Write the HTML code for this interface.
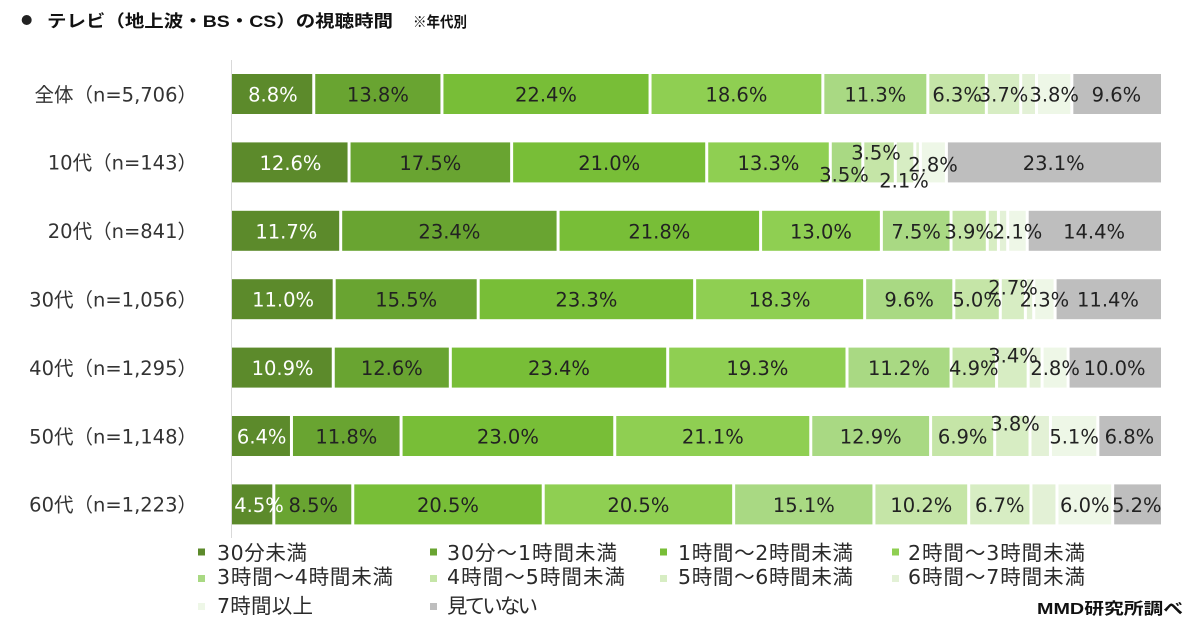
<!DOCTYPE html>
<html><head><meta charset="utf-8"><style>
html,body{margin:0;padding:0;background:#fff;}
svg{display:block;}
.dl{font-family:"DejaVu Sans","Noto Sans CJK JP",sans-serif;font-size:19.5px;fill:#222;text-anchor:middle;}
.w{fill:#fff;}
.rl{font-family:"DejaVu Sans","Noto Sans CJK JP",sans-serif;font-size:19.5px;fill:#333;text-anchor:end;}
.lg{font-family:"DejaVu Sans","Noto Sans CJK JP",sans-serif;font-size:20.5px;fill:#2a2a2a;}
.c0{fill:#5c8a2b}.c1{fill:#69a431}.c2{fill:#78be37}.c3{fill:#8fcf52}.c4{fill:#a9d983}
.c5{fill:#c5e5a7}.c6{fill:#d7edc3}.c7{fill:#e3f1d6}.c8{fill:#eef7e7}.c9{fill:#bebebe}
</style></head><body>
<svg width="1200" height="630" viewBox="0 0 1200 630" xmlns="http://www.w3.org/2000/svg">
<rect width="1200" height="630" fill="#fff"/>
<!-- title -->
<circle cx="26.7" cy="20" r="5" fill="#222"/>
<text x="47" y="27" font-family="Liberation Sans, Noto Sans CJK JP, sans-serif" font-size="17" font-weight="bold" fill="#111" textLength="346" lengthAdjust="spacingAndGlyphs">テレビ（地上波・BS・CS）の視聴時間</text>
<text x="413" y="27" font-family="Liberation Sans, Noto Sans CJK JP, sans-serif" font-size="15" font-weight="bold" fill="#111" textLength="54" lengthAdjust="spacingAndGlyphs">※年代別</text>

<!-- axis -->
<line x1="231.5" y1="60" x2="231.5" y2="538" stroke="#d9d9d9" stroke-width="1"/>

<!-- Row 0 -->
<g transform="translate(0,74)">
<rect class="c0" x="232" y="0" width="80.25" height="40"/>
<rect class="c1" x="315.25" y="0" width="125.2" height="40"/>
<rect class="c2" x="443.45" y="0" width="205.1" height="40"/>
<rect class="c3" x="651.55" y="0" width="169.79" height="40"/>
<rect class="c4" x="824.34" y="0" width="101.98" height="40"/>
<rect class="c5" x="929.32" y="0" width="55.53" height="40"/>
<rect class="c6" x="987.85" y="0" width="31.37" height="40"/>
<rect class="c7" x="1022.22" y="0" width="12.79" height="40"/>
<rect class="c8" x="1038.01" y="0" width="32.31" height="40"/>
<rect class="c9" x="1073.32" y="0" width="87.68" height="40"/>
</g>
<text class="dl w" x="272.9" y="101.5">8.8%</text>
<text class="dl" x="377.9" y="101.5">13.8%</text>
<text class="dl" x="546" y="101.5">22.4%</text>
<text class="dl" x="736.4" y="101.5">18.6%</text>
<text class="dl" x="875.3" y="101.5">11.3%</text>
<text class="dl" x="957.1" y="101.5">6.3%</text>
<text class="dl" x="1003.5" y="101.5">3.7%</text>
<text class="dl" x="1054.2" y="101.5">3.8%</text>
<text class="dl" x="1116.4" y="101.5">9.6%</text>

<!-- Row 1 -->
<g transform="translate(0,142.4)">
<rect class="c0" x="232" y="0" width="115.55" height="40"/>
<rect class="c1" x="350.55" y="0" width="159.58" height="40"/>
<rect class="c2" x="513.13" y="0" width="192.09" height="40"/>
<rect class="c3" x="708.22" y="0" width="120.56" height="40"/>
<rect class="c4" x="831.78" y="0" width="29.51" height="40"/>
<rect class="c5" x="864.29" y="0" width="29.52" height="40"/>
<rect class="c6" x="896.81" y="0" width="16.51" height="40"/>
<rect class="c7" x="916.32" y="0" width="2.57" height="40"/>
<rect class="c8" x="921.89" y="0" width="23.01" height="40"/>
<rect class="c9" x="947.9" y="0" width="213.1" height="40"/>
</g>
<text class="dl w" x="290.5" y="169.9">12.6%</text>
<text class="dl" x="430.3" y="169.9">17.5%</text>
<text class="dl" x="609.2" y="169.9">21.0%</text>
<text class="dl" x="768.5" y="169.9">13.3%</text>
<text class="dl" x="844" y="181.5">3.5%</text>
<text class="dl" x="876" y="159.5">3.5%</text>
<text class="dl" x="904" y="187.5">2.1%</text>
<text class="dl" x="933" y="171.5">2.8%</text>
<text class="dl" x="1053.7" y="169.9">23.1%</text>

<!-- Row 2 -->
<g transform="translate(0,210.8)">
<rect class="c0" x="232" y="0" width="107.19" height="40"/>
<rect class="c1" x="342.19" y="0" width="214.39" height="40"/>
<rect class="c2" x="559.58" y="0" width="199.52" height="40"/>
<rect class="c3" x="762.1" y="0" width="117.77" height="40"/>
<rect class="c4" x="882.87" y="0" width="66.68" height="40"/>
<rect class="c5" x="952.55" y="0" width="33.23" height="40"/>
<rect class="c6" x="988.78" y="0" width="8.15" height="40"/>
<rect class="c7" x="999.93" y="0" width="6.29" height="40"/>
<rect class="c8" x="1009.22" y="0" width="16.5" height="40"/>
<rect class="c9" x="1028.72" y="0" width="132.28" height="40"/>
</g>
<text class="dl w" x="286.3" y="238.3">11.7%</text>
<text class="dl" x="449.4" y="238.3">23.4%</text>
<text class="dl" x="659.3" y="238.3">21.8%</text>
<text class="dl" x="821" y="238.3">13.0%</text>
<text class="dl" x="916.2" y="238.3">7.5%</text>
<text class="dl" x="969.2" y="238.3">3.9%</text>
<text class="dl" x="1017.5" y="238.3">2.1%</text>
<text class="dl" x="1094.1" y="238.3">14.4%</text>

<!-- Row 3 -->
<g transform="translate(0,279.2)">
<rect class="c0" x="232" y="0" width="100.69" height="40"/>
<rect class="c1" x="335.69" y="0" width="141" height="40"/>
<rect class="c2" x="479.69" y="0" width="213.45" height="40"/>
<rect class="c3" x="696.14" y="0" width="167.01" height="40"/>
<rect class="c4" x="866.15" y="0" width="86.18" height="40"/>
<rect class="c5" x="955.33" y="0" width="43.45" height="40"/>
<rect class="c6" x="1001.78" y="0" width="22.09" height="40"/>
<rect class="c7" x="1026.87" y="0" width="5.36" height="40"/>
<rect class="c8" x="1035.23" y="0" width="18.36" height="40"/>
<rect class="c9" x="1056.59" y="0" width="104.41" height="40"/>
</g>
<text class="dl w" x="283.1" y="306.7">11.0%</text>
<text class="dl" x="406.2" y="306.7">15.5%</text>
<text class="dl" x="586.4" y="306.7">23.3%</text>
<text class="dl" x="779.6" y="306.7">18.3%</text>
<text class="dl" x="909.2" y="306.7">9.6%</text>
<text class="dl" x="977.1" y="306.7">5.0%</text>
<text class="dl" x="1013" y="294.5">2.7%</text>
<text class="dl" x="1044.4" y="306.7">2.3%</text>
<text class="dl" x="1108" y="306.7">11.4%</text>

<!-- Row 4 -->
<g transform="translate(0,347.6)">
<rect class="c0" x="232" y="0" width="99.76" height="40"/>
<rect class="c1" x="334.76" y="0" width="114.06" height="40"/>
<rect class="c2" x="451.82" y="0" width="214.38" height="40"/>
<rect class="c3" x="669.2" y="0" width="176.3" height="40"/>
<rect class="c4" x="848.5" y="0" width="101.05" height="40"/>
<rect class="c5" x="952.55" y="0" width="42.52" height="40"/>
<rect class="c6" x="998.07" y="0" width="28.58" height="40"/>
<rect class="c7" x="1029.65" y="0" width="10.94" height="40"/>
<rect class="c8" x="1043.59" y="0" width="23.01" height="40"/>
<rect class="c9" x="1069.6" y="0" width="91.4" height="40"/>
</g>
<text class="dl w" x="282.6" y="375.1">10.9%</text>
<text class="dl" x="391.8" y="375.1">12.6%</text>
<text class="dl" x="559" y="375.1">23.4%</text>
<text class="dl" x="757.4" y="375.1">19.3%</text>
<text class="dl" x="899" y="375.1">11.2%</text>
<text class="dl" x="973.8" y="375.1">4.9%</text>
<text class="dl" x="1013" y="362.5">3.4%</text>
<text class="dl" x="1055.1" y="375.1">2.8%</text>
<text class="dl" x="1114.6" y="375.1">10.0%</text>

<!-- Row 5 -->
<g transform="translate(0,416)">
<rect class="c0" x="232" y="0" width="57.96" height="40"/>
<rect class="c1" x="292.96" y="0" width="106.62" height="40"/>
<rect class="c2" x="402.58" y="0" width="210.67" height="40"/>
<rect class="c3" x="616.25" y="0" width="193.02" height="40"/>
<rect class="c4" x="812.27" y="0" width="116.84" height="40"/>
<rect class="c5" x="932.11" y="0" width="61.1" height="40"/>
<rect class="c6" x="996.21" y="0" width="32.3" height="40"/>
<rect class="c7" x="1031.51" y="0" width="17.44" height="40"/>
<rect class="c8" x="1051.95" y="0" width="44.38" height="40"/>
<rect class="c9" x="1099.33" y="0" width="61.67" height="40"/>
</g>
<text class="dl w" x="261.7" y="443.5">6.4%</text>
<text class="dl" x="346.3" y="443.5">11.8%</text>
<text class="dl" x="507.9" y="443.5">23.0%</text>
<text class="dl" x="712.8" y="443.5">21.1%</text>
<text class="dl" x="870.7" y="443.5">12.9%</text>
<text class="dl" x="962.7" y="443.5">6.9%</text>
<text class="dl" x="1015" y="430.5">3.8%</text>
<text class="dl" x="1074.1" y="443.5">5.1%</text>
<text class="dl" x="1129.4" y="443.5">6.8%</text>

<!-- Row 6 -->
<g transform="translate(0,484.4)">
<rect class="c0" x="232" y="0" width="40.31" height="40"/>
<rect class="c1" x="275.31" y="0" width="75.96" height="40"/>
<rect class="c2" x="354.27" y="0" width="187.45" height="40"/>
<rect class="c3" x="544.72" y="0" width="187.44" height="40"/>
<rect class="c4" x="735.16" y="0" width="137.28" height="40"/>
<rect class="c5" x="875.44" y="0" width="91.76" height="40"/>
<rect class="c6" x="970.2" y="0" width="59.24" height="40"/>
<rect class="c7" x="1032.44" y="0" width="23.01" height="40"/>
<rect class="c8" x="1058.45" y="0" width="52.74" height="40"/>
<rect class="c9" x="1114.19" y="0" width="46.81" height="40"/>
</g>
<text class="dl w" x="259" y="511.9">4.5%</text>
<text class="dl" x="313.3" y="511.9">8.5%</text>
<text class="dl" x="448" y="511.9">20.5%</text>
<text class="dl" x="638.4" y="511.9">20.5%</text>
<text class="dl" x="803.8" y="511.9">15.1%</text>
<text class="dl" x="921.3" y="511.9">10.2%</text>
<text class="dl" x="999.8" y="511.9">6.7%</text>
<text class="dl" x="1084.8" y="511.9">6.0%</text>
<text class="dl" x="1136.8" y="511.9">5.2%</text>

<!-- Row labels -->
<text class="rl" x="197" y="101.3">全体（n=5,706）</text>
<text class="rl" x="197" y="169.7">10代（n=143）</text>
<text class="rl" x="197" y="238.1">20代（n=841）</text>
<text class="rl" x="197" y="306.5">30代（n=1,056）</text>
<text class="rl" x="197" y="374.9">40代（n=1,295）</text>
<text class="rl" x="197" y="443.3">50代（n=1,148）</text>
<text class="rl" x="197" y="511.7">60代（n=1,223）</text>

<!-- Legend -->
<rect class="c0" x="198" y="548.5" width="7" height="7"/>
<text class="lg" x="217" y="560" textLength="90" lengthAdjust="spacing">30分未満</text>
<rect class="c1" x="430" y="548.5" width="7" height="7"/>
<text class="lg" x="447" y="560" textLength="170" lengthAdjust="spacing">30分～1時間未満</text>
<rect class="c2" x="660" y="548.5" width="7" height="7"/>
<text class="lg" x="678" y="560" textLength="175" lengthAdjust="spacing">1時間～2時間未満</text>
<rect class="c3" x="892" y="548.5" width="7" height="7"/>
<text class="lg" x="908" y="560" textLength="177" lengthAdjust="spacing">2時間～3時間未満</text>

<rect class="c4" x="198" y="575" width="7" height="7"/>
<text class="lg" x="217" y="584" textLength="176" lengthAdjust="spacing">3時間～4時間未満</text>
<rect class="c5" x="430" y="575" width="7" height="7"/>
<text class="lg" x="447" y="584" textLength="178" lengthAdjust="spacing">4時間～5時間未満</text>
<rect class="c6" x="660" y="575" width="7" height="7"/>
<text class="lg" x="678" y="584" textLength="175" lengthAdjust="spacing">5時間～6時間未満</text>
<rect class="c7" x="892" y="575" width="7" height="7"/>
<text class="lg" x="908" y="584" textLength="177" lengthAdjust="spacing">6時間～7時間未満</text>

<rect class="c8" x="198" y="603" width="7" height="7"/>
<text class="lg" x="217" y="613" textLength="96" lengthAdjust="spacing">7時間以上</text>
<rect class="c9" x="430" y="603" width="7" height="7"/>
<text class="lg" x="447" y="613" textLength="91" lengthAdjust="spacing">見ていない</text>

<text x="1037" y="614" font-family="Liberation Sans, Noto Sans CJK JP, sans-serif" font-size="16" font-weight="bold" fill="#111" textLength="146" lengthAdjust="spacingAndGlyphs">MMD研究所調べ</text>
</svg>
</body></html>
